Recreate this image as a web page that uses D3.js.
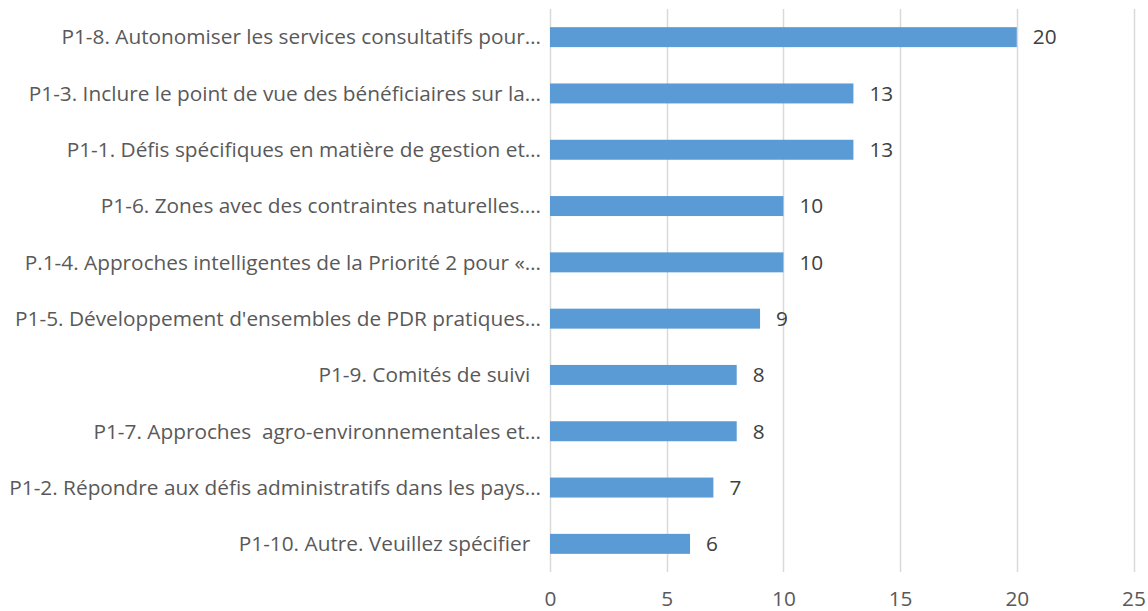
<!DOCTYPE html>
<html>
<head>
<meta charset="utf-8">
<script src="https://cdn.jsdelivr.net/npm/d3@7/dist/d3.min.js"></script>
<style>
  body { margin: 0; background: #fff; }
  svg text { font-family: "Open Sans", sans-serif; white-space: pre; }
</style>
</head>
<body>
<div id="chart"></div>
<script>
var categories = [
    "P1-8. Autonomiser les services consultatifs pour…",
    "P1-3. Inclure le point de vue des bénéficiaires sur la…",
    "P1-1. Défis spécifiques en matière de gestion et…",
    "P1-6. Zones avec des contraintes naturelles.…",
    "P.1-4. Approches intelligentes de la Priorité 2 pour «…",
    "P1-5. Développement d'ensembles de PDR pratiques…",
    "P1-9. Comités de suivi  ",
    "P1-7. Approches  agro-environnementales et…",
    "P1-2. Répondre aux défis administratifs dans les pays…",
    "P1-10. Autre. Veuillez spécifier  "
];
var values = [20, 13, 13, 10, 10, 9, 8, 8, 7, 6];
var xTicks = [0, 5, 10, 15, 20, 25];

var width = 1148, height = 611;
var margin = {left: 550, top: 9, right: 15, bottom: 39};
var fontSize = "20.8px";

var svg = d3.select("#chart")
    .append("svg")
    .attr("width", width)
    .attr("height", height);

var xScale = d3.scaleLinear()
    .domain([0, 25])
    .range([margin.left, margin.left + 583.5]);

var yScale = d3.scaleBand()
    .domain(categories)
    .range([margin.top, height - margin.bottom])
    .paddingInner(0.645)
    .paddingOuter(0.3225);

// gridlines
svg.selectAll("line.grid")
    .data(xTicks)
    .enter()
    .append("line")
    .attr("class", "grid")
    .attr("x1", function(d) { return Math.round(xScale(d)) + 0.5 })
    .attr("x2", function(d) { return Math.round(xScale(d)) + 0.5 })
    .attr("y1", margin.top)
    .attr("y2", height - margin.bottom)
    .attr("stroke", "#d9d9d9")
    .attr("stroke-width", 1.5);

// x axis labels, sitting low near the bottom edge
var xAxis = d3.axisBottom(xScale)
    .tickValues(xTicks)
    .tickSize(0)
    .tickPadding(0);

var gx = svg.append("g")
    .attr("transform", "translate(0 " + 605.5 + ")")
    .call(xAxis);
gx.select(".domain").remove();
gx.selectAll("text")
    .attr("y", 0)
    .attr("dy", "0")
    .attr("fill", "#595959")
    .style("font-size", fontSize)
    .style("font-family", "'Open Sans', sans-serif");

// bars
svg.selectAll("rect")
    .data(values)
    .enter()
    .append("rect")
    .attr("x", xScale(0))
    .attr("y", function(d, i) { return yScale(categories[i]) })
    .attr("width", function(d) { return xScale(d) - xScale(0) })
    .attr("height", yScale.bandwidth())
    .attr("fill", "#5b9bd5");

// category labels
svg.selectAll("text.cat")
    .data(categories)
    .enter()
    .append("text")
    .attr("class", "cat")
    .attr("x", xScale(0) - 9)
    .attr("y", function(d) { return yScale(d) + yScale.bandwidth() / 2 })
    .attr("dy", "0.35em")
    .attr("text-anchor", "end")
    .attr("fill", "#595959")
    .style("font-size", fontSize)
    .text(function(d) { return d });

// value labels
svg.selectAll("text.val")
    .data(values)
    .enter()
    .append("text")
    .attr("class", "val")
    .attr("x", function(d) { return xScale(d) + 16 })
    .attr("y", function(d, i) { return yScale(categories[i]) + yScale.bandwidth() / 2 })
    .attr("dy", "0.35em")
    .attr("fill", "#404040")
    .style("font-size", fontSize)
    .text(function(d) { return d });
</script>
</body>
</html>
